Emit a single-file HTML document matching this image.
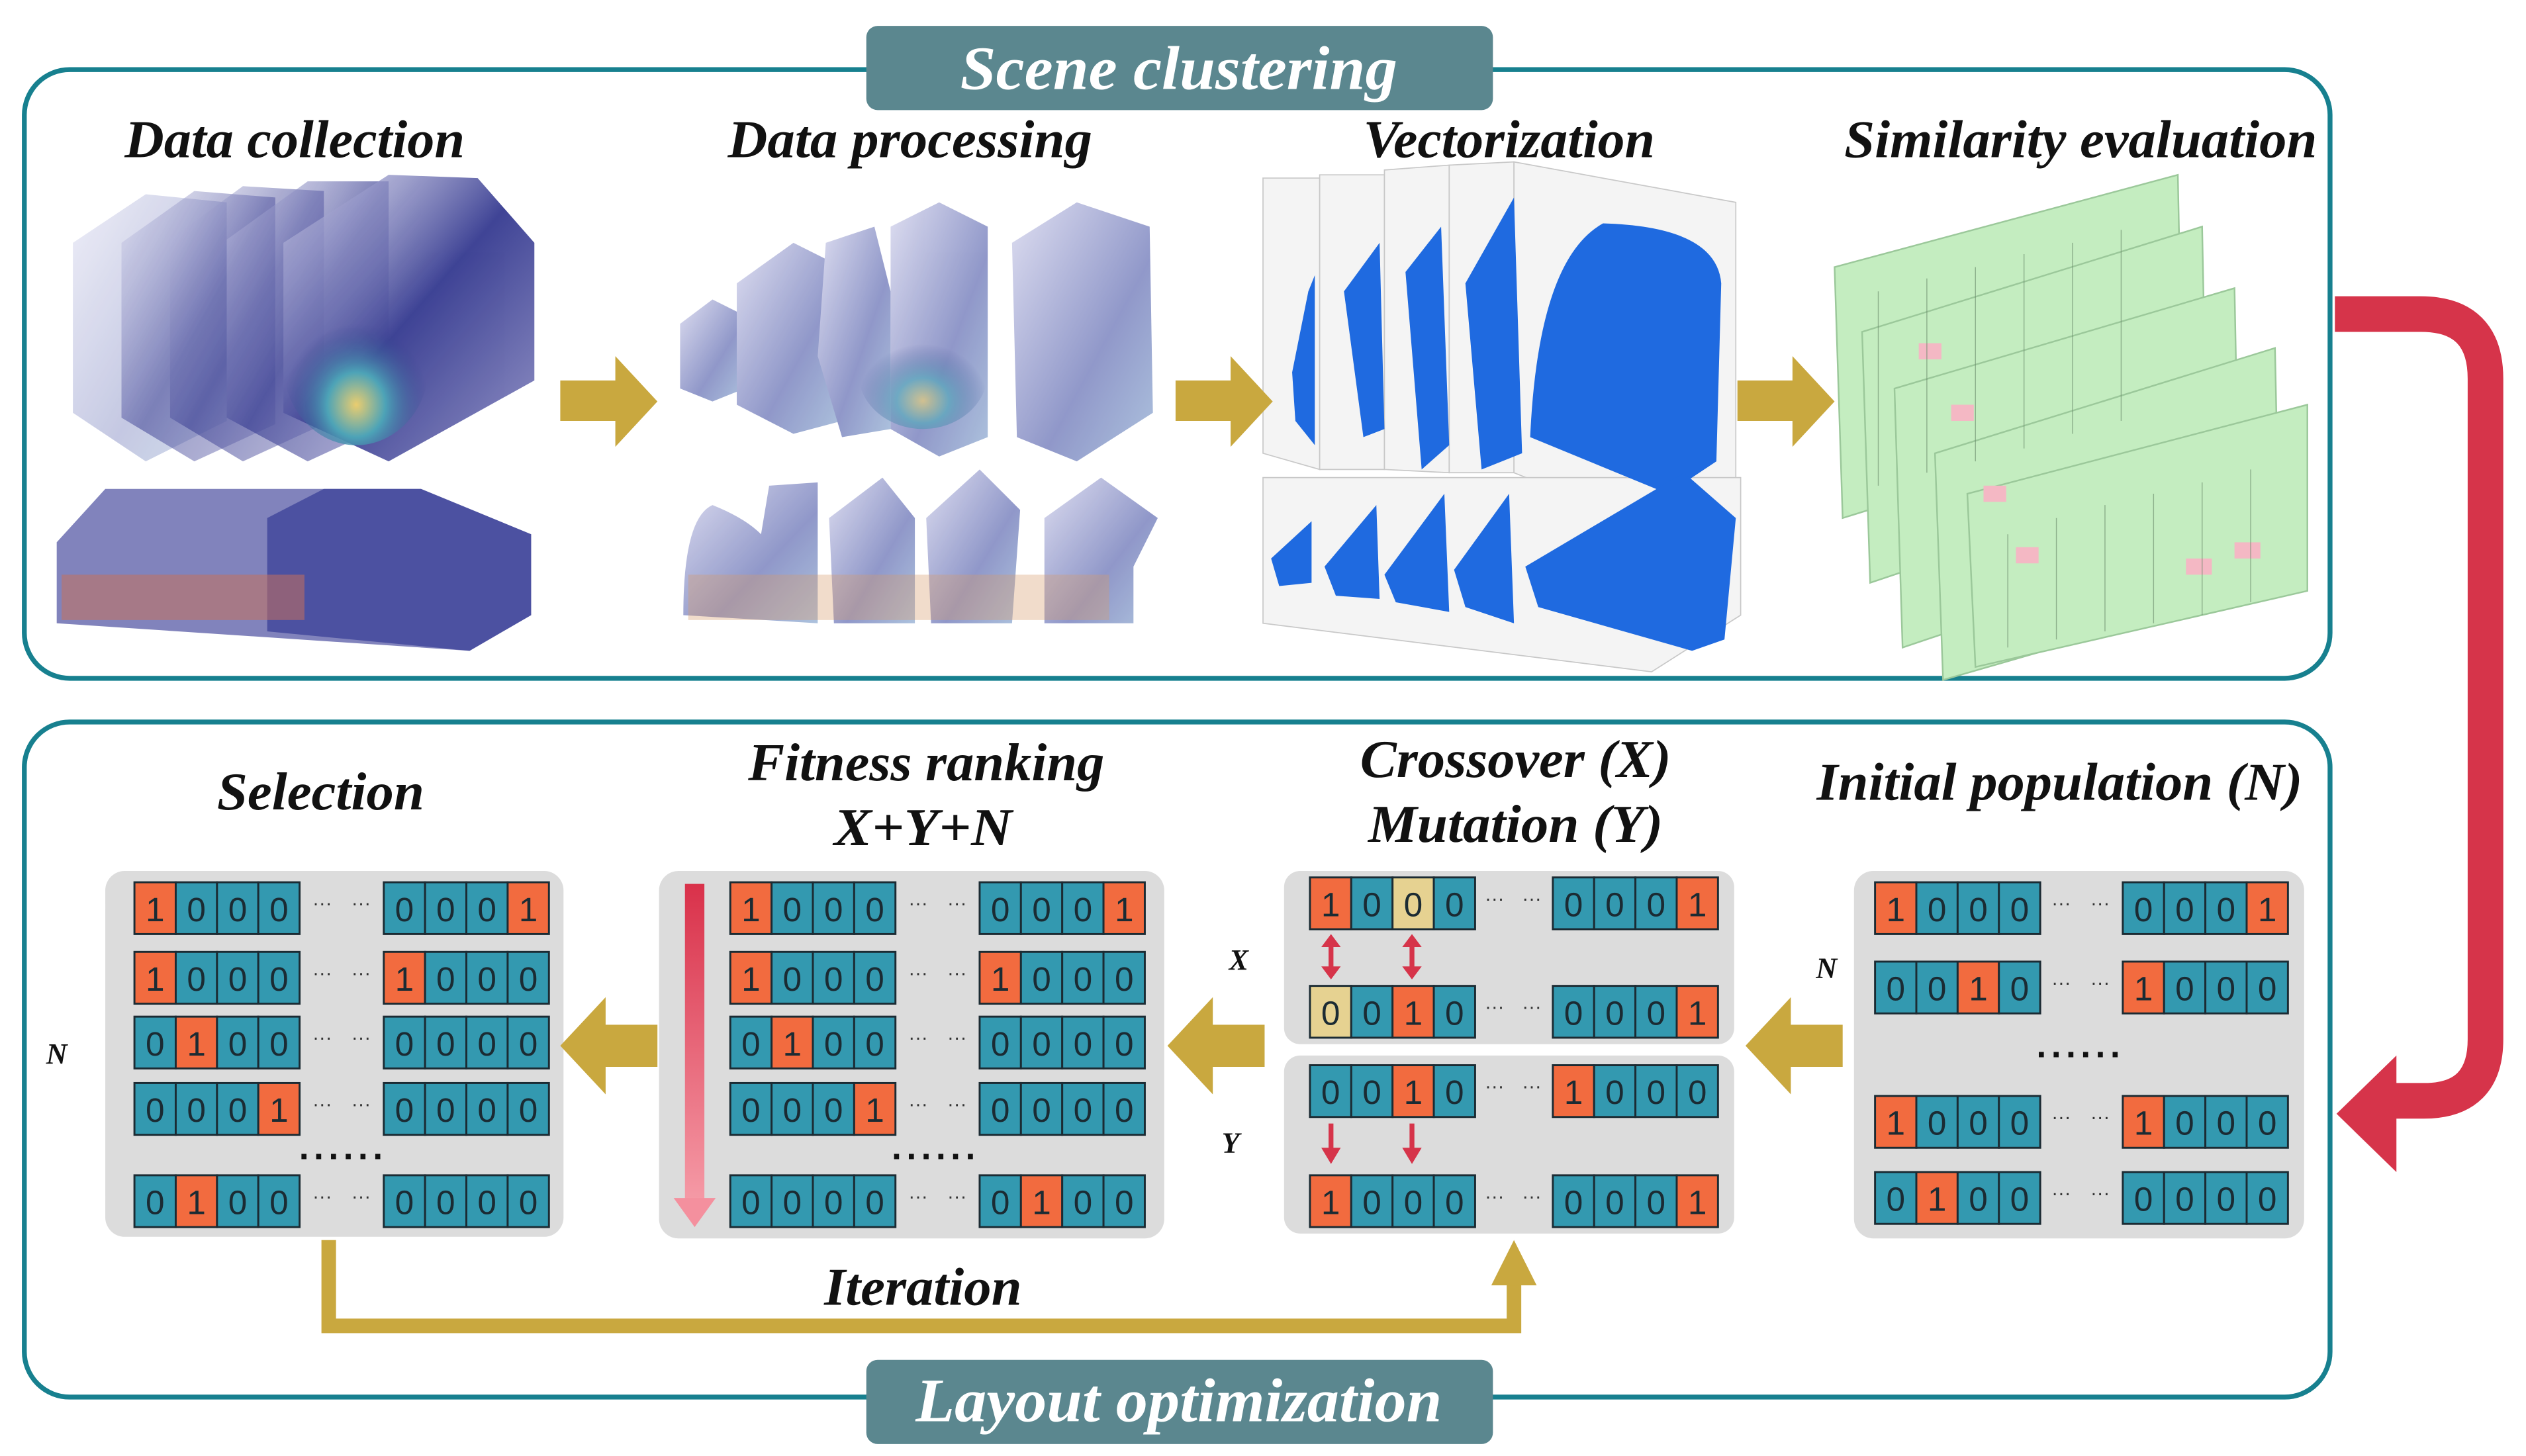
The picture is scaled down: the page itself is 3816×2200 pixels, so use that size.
<!DOCTYPE html>
<html><head><meta charset="utf-8"><style>
html,body{margin:0;padding:0;background:#fff}
svg{display:block}
.t{fill:#3399b0;stroke:#1b2b33;stroke-width:1.2}
.o{fill:#f26b3f;stroke:#1b2b33;stroke-width:1.2}
.y{fill:#e6d291;stroke:#1b2b33;stroke-width:1.2}
.d{font-family:"Liberation Sans",sans-serif;font-size:21px;fill:#1b2b33;text-anchor:middle}
.dt{font-family:"Liberation Sans",sans-serif;font-size:12px;fill:#333;text-anchor:middle}
.h{font-family:"Liberation Serif",serif;font-weight:bold;font-style:italic;fill:#111}
.w{font-family:"Liberation Serif",serif;font-weight:bold;font-style:italic;fill:#fff}
.gold{fill:#c9a83f}
</style></head><body>
<svg width="3816" height="2200" viewBox="0 0 1560 899.4" xmlns="http://www.w3.org/2000/svg">
<defs>
<linearGradient id="nav" x1="0" y1="0" x2="1" y2="1"><stop offset="0" stop-color="#c8c8e6" stop-opacity=".6"/><stop offset=".5" stop-color="#2a2f8a"/><stop offset="1" stop-color="#8888c0"/></linearGradient>
<radialGradient id="hot" cx=".5" cy=".75" r=".5"><stop offset="0" stop-color="#e8c860"/><stop offset=".4" stop-color="#3a9ab0"/><stop offset="1" stop-color="#1e2a80" stop-opacity="0"/></radialGradient>
<linearGradient id="lav" x1="0" y1="0" x2="1" y2="1"><stop offset="0" stop-color="#d8d8ee"/><stop offset=".6" stop-color="#7d86c0"/><stop offset="1" stop-color="#9fb8d8"/></linearGradient>
<linearGradient id="redg" x1="0" y1="0" x2="0" y2="1"><stop offset="0" stop-color="#d9314a"/><stop offset="1" stop-color="#f59aa6"/></linearGradient>
</defs>

<!-- frames -->
<rect x="15" y="43" width="1424" height="376" rx="28" fill="none" stroke="#17808f" stroke-width="3"/>
<rect x="15" y="446" width="1424" height="417" rx="28" fill="none" stroke="#17808f" stroke-width="3"/>
<rect x="535" y="16" width="387" height="52" rx="7" fill="#5b878f"/>
<text class="w" x="728" y="55" font-size="38" text-anchor="middle" textLength="270" lengthAdjust="spacingAndGlyphs">Scene clustering</text>
<rect x="535" y="840" width="387" height="52" rx="7" fill="#5b878f"/>
<text class="w" x="728" y="878" font-size="38" text-anchor="middle" textLength="325" lengthAdjust="spacingAndGlyphs">Layout optimization</text>

<!-- top titles -->
<text class="h" x="182" y="97" font-size="33" text-anchor="middle" textLength="210" lengthAdjust="spacingAndGlyphs">Data collection</text>
<text class="h" x="562" y="97" font-size="33" text-anchor="middle" textLength="225" lengthAdjust="spacingAndGlyphs">Data processing</text>
<text class="h" x="932" y="97" font-size="33" text-anchor="middle" textLength="180" lengthAdjust="spacingAndGlyphs">Vectorization</text>
<text class="h" x="1285" y="97" font-size="33" text-anchor="middle" textLength="292" lengthAdjust="spacingAndGlyphs">Similarity evaluation</text>

<!-- data collection images -->
<g opacity=".9">
<polygon points="45,150 90,120 140,125 140,260 90,285 45,255" fill="url(#lav)" opacity=".5"/>
<polygon points="75,150 120,118 170,122 170,262 120,285 75,258" fill="url(#nav)" opacity=".55"/>
<polygon points="105,148 150,115 200,118 200,262 150,285 105,258" fill="url(#nav)" opacity=".6"/>
<polygon points="140,148 190,112 240,112 240,262 190,285 140,258" fill="url(#nav)" opacity=".7"/>
<polygon points="175,150 240,108 295,110 330,150 330,235 240,285 175,255" fill="url(#nav)"/>
<ellipse cx="220" cy="225" rx="45" ry="50" fill="url(#hot)"/>
<polygon points="35,335 65,302 260,302 328,330 328,380 290,402 35,385" fill="#5a5ea8" opacity=".85"/>
<polygon points="165,320 200,302 260,302 328,330 328,380 290,402 165,390" fill="#2c3190" opacity=".8"/>
<rect x="38" y="355" width="150" height="28" fill="#c0604a" opacity=".55"/>
</g>
<!-- data processing -->
<g opacity=".85">
<polygon points="420,200 440,185 460,195 460,240 440,248 420,240" fill="url(#lav)"/>
<polygon points="455,175 490,150 520,165 520,260 490,268 455,250" fill="url(#lav)"/>
<polygon points="510,150 540,140 550,180 550,265 520,270 505,220" fill="url(#lav)"/>
<polygon points="550,140 580,125 610,140 610,270 580,282 550,265" fill="url(#lav)"/>
<polygon points="625,150 665,125 710,140 712,255 665,285 628,270" fill="url(#lav)"/>
<ellipse cx="570" cy="230" rx="40" ry="35" fill="url(#hot)" opacity=".7"/>
<path d="M422,380 Q422,320 440,312 Q460,320 470,330 L475,300 L505,298 L505,385 Z" fill="url(#lav)"/>
<polygon points="512,320 545,295 565,320 565,385 515,385" fill="url(#lav)"/>
<polygon points="572,320 605,290 630,315 625,385 575,385" fill="url(#lav)"/>
<polygon points="645,320 680,295 715,320 700,350 700,385 645,385" fill="url(#lav)"/>
<rect x="425" y="355" width="260" height="28" fill="#d08a50" opacity=".35"/>
</g>
<!-- vectorization -->
<g stroke="#c8c8c8" stroke-width=".7" fill="#f4f4f4">
<polygon points="780,110 815,110 815,290 780,280"/>
<polygon points="815,108 855,108 855,290 815,290"/>
<polygon points="855,105 895,102 895,292 855,290"/>
<polygon points="895,102 935,100 935,292 895,292"/>
<polygon points="935,100 1072,125 1072,300 1000,318 935,292"/>
<polygon points="780,295 1075,295 1075,380 1020,415 780,385"/>
</g>
<g fill="#1f6ae0">
<polygon points="798,230 808,180 812,170 812,275 800,260"/>
<polygon points="830,180 852,150 855,265 842,270"/>
<polygon points="868,168 890,140 895,275 878,290"/>
<polygon points="905,175 935,122 940,280 915,290"/>
<path d="M945,270 Q950,160 990,138 Q1060,140 1063,175 L1060,285 L1030,305 Z"/>
<polygon points="785,345 810,322 810,360 790,362"/>
<polygon points="818,350 850,312 852,370 825,368"/>
<polygon points="855,355 892,305 895,378 862,372"/>
<polygon points="898,352 932,305 935,385 905,375"/>
<polygon points="942,350 1040,292 1072,320 1065,395 1045,402 950,375"/>
</g>
<!-- similarity sheets -->
<g fill="#c4edc0" stroke="#9bc89a" stroke-width="1">
<polygon points="1133,165 1345,108 1348,255 1138,320"/>
<polygon points="1150,205 1360,140 1363,290 1155,360"/>
<polygon points="1170,240 1380,178 1383,330 1175,400"/>
<polygon points="1195,280 1405,215 1408,360 1200,420"/>
<polygon points="1215,305 1425,250 1425,365 1220,412"/>
</g>
<g fill="#f4b8c4">
<rect x="1185" y="212" width="14" height="10"/><rect x="1205" y="250" width="14" height="10"/>
<rect x="1225" y="300" width="14" height="10"/><rect x="1245" y="338" width="14" height="10"/>
<rect x="1350" y="345" width="16" height="10"/><rect x="1380" y="335" width="16" height="10"/>
</g>
<g stroke="#6a8a6a" stroke-width=".6" opacity=".6">
<path d="M1160,180 V300 M1190,172 V292 M1220,165 V285 M1250,157 V277 M1280,150 V268 M1310,142 V260 M1240,330 V400 M1270,320 V395 M1300,312 V390 M1330,305 V385 M1360,298 V380 M1390,290 V372"/>
</g>

<!-- top gold arrows -->
<polygon class="gold" points="346,235 380,235 380,220 406,248 380,276 380,260 346,260"/>
<polygon class="gold" points="726,235 760,235 760,220 786,248 760,276 760,260 726,260"/>
<polygon class="gold" points="1073,235 1107,235 1107,220 1133,248 1107,276 1107,260 1073,260"/>

<!-- red arrow -->
<path d="M1442,194 H1495 Q1535,194 1535,234 V642 Q1535,680 1497,680 H1474" fill="none" stroke="#d6344a" stroke-width="22"/>
<polygon points="1443,688 1480,652 1480,724" fill="#d6344a"/>

<!-- bottom titles -->
<text class="h" x="198" y="500" font-size="33" text-anchor="middle" textLength="128" lengthAdjust="spacingAndGlyphs">Selection</text>
<text class="h" x="572" y="482" font-size="33" text-anchor="middle" textLength="220" lengthAdjust="spacingAndGlyphs">Fitness ranking</text>
<text class="h" x="570" y="522" font-size="33" text-anchor="middle" textLength="110" lengthAdjust="spacingAndGlyphs">X+Y+N</text>
<text class="h" x="936" y="480" font-size="33" text-anchor="middle" textLength="192" lengthAdjust="spacingAndGlyphs">Crossover (X)</text>
<text class="h" x="936" y="520" font-size="33" text-anchor="middle" textLength="182" lengthAdjust="spacingAndGlyphs">Mutation (Y)</text>
<text class="h" x="1272" y="494" font-size="33" text-anchor="middle" textLength="300" lengthAdjust="spacingAndGlyphs">Initial population (N)</text>
<text class="h" x="570" y="806" font-size="33" text-anchor="middle" textLength="122" lengthAdjust="spacingAndGlyphs">Iteration</text>

<!-- panels -->
<rect x="65" y="538" width="283" height="226" rx="12" fill="#dcdcdc"/>
<rect x="407" y="538" width="312" height="227" rx="12" fill="#dcdcdc"/>
<rect x="793" y="538" width="278" height="107" rx="10" fill="#dcdcdc"/>
<rect x="793" y="652" width="278" height="110" rx="10" fill="#dcdcdc"/>
<rect x="1145" y="538" width="278" height="227" rx="12" fill="#dcdcdc"/>

<!-- brace + labels -->
<path d="M65,560 Q55,560 55,600 Q55,645 48,650 Q55,655 55,700 Q55,740 65,740" fill="none" stroke="#fff" stroke-width="3"/>
<text class="h" x="35" y="657" font-size="18" text-anchor="middle">N</text>
<text class="h" x="765" y="599" font-size="18" text-anchor="middle">X</text>
<text class="h" x="760" y="712" font-size="18" text-anchor="middle">Y</text>
<text class="h" x="1128" y="604" font-size="18" text-anchor="middle">N</text>

<!-- fitness arrow -->
<rect x="423" y="546" width="12" height="196" fill="url(#redg)"/>
<polygon points="416,740 442,740 429,758" fill="#f4909e"/>

<!-- left gold arrows -->
<polygon class="gold" points="346,646 374,616 374,633 406,633 406,659 374,659 374,676"/>
<polygon class="gold" points="721,646 749,616 749,633 781,633 781,659 749,659 749,676"/>
<polygon class="gold" points="1078,646 1106,616 1106,633 1138,633 1138,659 1106,659 1106,676"/>

<!-- iteration -->
<path d="M203,766 V819 H935 V792" fill="none" stroke="#c9a83f" stroke-width="9"/>
<polygon class="gold" points="921,794 949,794 935,766"/>

<!-- crossover/mutation red arrows -->
<g stroke="#d6344a" stroke-width="3" fill="#d6344a">
<line x1="822" y1="584" x2="822" y2="598"/><polygon points="816,585 828,585 822,577" stroke="none"/><polygon points="816,597 828,597 822,605" stroke="none"/>
<line x1="872" y1="584" x2="872" y2="598"/><polygon points="866,585 878,585 872,577" stroke="none"/><polygon points="866,597 878,597 872,605" stroke="none"/>
<line x1="822" y1="694" x2="822" y2="710"/><polygon points="816,709 828,709 822,719" stroke="none"/>
<line x1="872" y1="694" x2="872" y2="710"/><polygon points="866,709 878,709 872,719" stroke="none"/>
</g>

<!-- dotted separators -->
<g font-family="Liberation Sans" font-size="22" font-weight="bold" fill="#111" text-anchor="middle">
<text x="212" y="716" letter-spacing="3">......</text>
<text x="578" y="716" letter-spacing="3">......</text>
<text x="1285" y="653" letter-spacing="3">......</text>
</g>

<!-- ROWS -->
<!-- Selection -->
<g transform="translate(83,545)"><rect class="o" x="0" y="0" width="25.5" height="32"/><rect class="t" x="25.5" y="0" width="25.5" height="32"/><rect class="t" x="51" y="0" width="25.5" height="32"/><rect class="t" x="76.5" y="0" width="25.5" height="32"/><rect class="t" x="154" y="0" width="25.5" height="32"/><rect class="t" x="179.5" y="0" width="25.5" height="32"/><rect class="t" x="205" y="0" width="25.5" height="32"/><rect class="o" x="230.5" y="0" width="25.5" height="32"/><text class="d" x="12.75" y="24">1</text><text class="d" x="38.25" y="24">0</text><text class="d" x="63.75" y="24">0</text><text class="d" x="89.25" y="24">0</text><text class="d" x="166.75" y="24">0</text><text class="d" x="192.25" y="24">0</text><text class="d" x="217.75" y="24">0</text><text class="d" x="243.25" y="24">1</text><text class="dt" x="116" y="17">···</text><text class="dt" x="140" y="17">···</text></g>
<g transform="translate(83,588)"><rect class="o" x="0" y="0" width="25.5" height="32"/><rect class="t" x="25.5" y="0" width="25.5" height="32"/><rect class="t" x="51" y="0" width="25.5" height="32"/><rect class="t" x="76.5" y="0" width="25.5" height="32"/><rect class="o" x="154" y="0" width="25.5" height="32"/><rect class="t" x="179.5" y="0" width="25.5" height="32"/><rect class="t" x="205" y="0" width="25.5" height="32"/><rect class="t" x="230.5" y="0" width="25.5" height="32"/><text class="d" x="12.75" y="24">1</text><text class="d" x="38.25" y="24">0</text><text class="d" x="63.75" y="24">0</text><text class="d" x="89.25" y="24">0</text><text class="d" x="166.75" y="24">1</text><text class="d" x="192.25" y="24">0</text><text class="d" x="217.75" y="24">0</text><text class="d" x="243.25" y="24">0</text><text class="dt" x="116" y="17">···</text><text class="dt" x="140" y="17">···</text></g>
<g transform="translate(83,628)"><rect class="t" x="0" y="0" width="25.5" height="32"/><rect class="o" x="25.5" y="0" width="25.5" height="32"/><rect class="t" x="51" y="0" width="25.5" height="32"/><rect class="t" x="76.5" y="0" width="25.5" height="32"/><rect class="t" x="154" y="0" width="25.5" height="32"/><rect class="t" x="179.5" y="0" width="25.5" height="32"/><rect class="t" x="205" y="0" width="25.5" height="32"/><rect class="t" x="230.5" y="0" width="25.5" height="32"/><text class="d" x="12.75" y="24">0</text><text class="d" x="38.25" y="24">1</text><text class="d" x="63.75" y="24">0</text><text class="d" x="89.25" y="24">0</text><text class="d" x="166.75" y="24">0</text><text class="d" x="192.25" y="24">0</text><text class="d" x="217.75" y="24">0</text><text class="d" x="243.25" y="24">0</text><text class="dt" x="116" y="17">···</text><text class="dt" x="140" y="17">···</text></g>
<g transform="translate(83,669)"><rect class="t" x="0" y="0" width="25.5" height="32"/><rect class="t" x="25.5" y="0" width="25.5" height="32"/><rect class="t" x="51" y="0" width="25.5" height="32"/><rect class="o" x="76.5" y="0" width="25.5" height="32"/><rect class="t" x="154" y="0" width="25.5" height="32"/><rect class="t" x="179.5" y="0" width="25.5" height="32"/><rect class="t" x="205" y="0" width="25.5" height="32"/><rect class="t" x="230.5" y="0" width="25.5" height="32"/><text class="d" x="12.75" y="24">0</text><text class="d" x="38.25" y="24">0</text><text class="d" x="63.75" y="24">0</text><text class="d" x="89.25" y="24">1</text><text class="d" x="166.75" y="24">0</text><text class="d" x="192.25" y="24">0</text><text class="d" x="217.75" y="24">0</text><text class="d" x="243.25" y="24">0</text><text class="dt" x="116" y="17">···</text><text class="dt" x="140" y="17">···</text></g>
<g transform="translate(83,726)"><rect class="t" x="0" y="0" width="25.5" height="32"/><rect class="o" x="25.5" y="0" width="25.5" height="32"/><rect class="t" x="51" y="0" width="25.5" height="32"/><rect class="t" x="76.5" y="0" width="25.5" height="32"/><rect class="t" x="154" y="0" width="25.5" height="32"/><rect class="t" x="179.5" y="0" width="25.5" height="32"/><rect class="t" x="205" y="0" width="25.5" height="32"/><rect class="t" x="230.5" y="0" width="25.5" height="32"/><text class="d" x="12.75" y="24">0</text><text class="d" x="38.25" y="24">1</text><text class="d" x="63.75" y="24">0</text><text class="d" x="89.25" y="24">0</text><text class="d" x="166.75" y="24">0</text><text class="d" x="192.25" y="24">0</text><text class="d" x="217.75" y="24">0</text><text class="d" x="243.25" y="24">0</text><text class="dt" x="116" y="17">···</text><text class="dt" x="140" y="17">···</text></g>

<!-- Fitness -->
<g transform="translate(451,545)"><rect class="o" x="0" y="0" width="25.5" height="32"/><rect class="t" x="25.5" y="0" width="25.5" height="32"/><rect class="t" x="51" y="0" width="25.5" height="32"/><rect class="t" x="76.5" y="0" width="25.5" height="32"/><rect class="t" x="154" y="0" width="25.5" height="32"/><rect class="t" x="179.5" y="0" width="25.5" height="32"/><rect class="t" x="205" y="0" width="25.5" height="32"/><rect class="o" x="230.5" y="0" width="25.5" height="32"/><text class="d" x="12.75" y="24">1</text><text class="d" x="38.25" y="24">0</text><text class="d" x="63.75" y="24">0</text><text class="d" x="89.25" y="24">0</text><text class="d" x="166.75" y="24">0</text><text class="d" x="192.25" y="24">0</text><text class="d" x="217.75" y="24">0</text><text class="d" x="243.25" y="24">1</text><text class="dt" x="116" y="17">···</text><text class="dt" x="140" y="17">···</text></g>
<g transform="translate(451,588)"><rect class="o" x="0" y="0" width="25.5" height="32"/><rect class="t" x="25.5" y="0" width="25.5" height="32"/><rect class="t" x="51" y="0" width="25.5" height="32"/><rect class="t" x="76.5" y="0" width="25.5" height="32"/><rect class="o" x="154" y="0" width="25.5" height="32"/><rect class="t" x="179.5" y="0" width="25.5" height="32"/><rect class="t" x="205" y="0" width="25.5" height="32"/><rect class="t" x="230.5" y="0" width="25.5" height="32"/><text class="d" x="12.75" y="24">1</text><text class="d" x="38.25" y="24">0</text><text class="d" x="63.75" y="24">0</text><text class="d" x="89.25" y="24">0</text><text class="d" x="166.75" y="24">1</text><text class="d" x="192.25" y="24">0</text><text class="d" x="217.75" y="24">0</text><text class="d" x="243.25" y="24">0</text><text class="dt" x="116" y="17">···</text><text class="dt" x="140" y="17">···</text></g>
<g transform="translate(451,628)"><rect class="t" x="0" y="0" width="25.5" height="32"/><rect class="o" x="25.5" y="0" width="25.5" height="32"/><rect class="t" x="51" y="0" width="25.5" height="32"/><rect class="t" x="76.5" y="0" width="25.5" height="32"/><rect class="t" x="154" y="0" width="25.5" height="32"/><rect class="t" x="179.5" y="0" width="25.5" height="32"/><rect class="t" x="205" y="0" width="25.5" height="32"/><rect class="t" x="230.5" y="0" width="25.5" height="32"/><text class="d" x="12.75" y="24">0</text><text class="d" x="38.25" y="24">1</text><text class="d" x="63.75" y="24">0</text><text class="d" x="89.25" y="24">0</text><text class="d" x="166.75" y="24">0</text><text class="d" x="192.25" y="24">0</text><text class="d" x="217.75" y="24">0</text><text class="d" x="243.25" y="24">0</text><text class="dt" x="116" y="17">···</text><text class="dt" x="140" y="17">···</text></g>
<g transform="translate(451,669)"><rect class="t" x="0" y="0" width="25.5" height="32"/><rect class="t" x="25.5" y="0" width="25.5" height="32"/><rect class="t" x="51" y="0" width="25.5" height="32"/><rect class="o" x="76.5" y="0" width="25.5" height="32"/><rect class="t" x="154" y="0" width="25.5" height="32"/><rect class="t" x="179.5" y="0" width="25.5" height="32"/><rect class="t" x="205" y="0" width="25.5" height="32"/><rect class="t" x="230.5" y="0" width="25.5" height="32"/><text class="d" x="12.75" y="24">0</text><text class="d" x="38.25" y="24">0</text><text class="d" x="63.75" y="24">0</text><text class="d" x="89.25" y="24">1</text><text class="d" x="166.75" y="24">0</text><text class="d" x="192.25" y="24">0</text><text class="d" x="217.75" y="24">0</text><text class="d" x="243.25" y="24">0</text><text class="dt" x="116" y="17">···</text><text class="dt" x="140" y="17">···</text></g>
<g transform="translate(451,726)"><rect class="t" x="0" y="0" width="25.5" height="32"/><rect class="t" x="25.5" y="0" width="25.5" height="32"/><rect class="t" x="51" y="0" width="25.5" height="32"/><rect class="t" x="76.5" y="0" width="25.5" height="32"/><rect class="t" x="154" y="0" width="25.5" height="32"/><rect class="o" x="179.5" y="0" width="25.5" height="32"/><rect class="t" x="205" y="0" width="25.5" height="32"/><rect class="t" x="230.5" y="0" width="25.5" height="32"/><text class="d" x="12.75" y="24">0</text><text class="d" x="38.25" y="24">0</text><text class="d" x="63.75" y="24">0</text><text class="d" x="89.25" y="24">0</text><text class="d" x="166.75" y="24">0</text><text class="d" x="192.25" y="24">1</text><text class="d" x="217.75" y="24">0</text><text class="d" x="243.25" y="24">0</text><text class="dt" x="116" y="17">···</text><text class="dt" x="140" y="17">···</text></g>

<!-- Crossover / Mutation -->
<g transform="translate(809,542)"><rect class="o" x="0" y="0" width="25.5" height="32"/><rect class="t" x="25.5" y="0" width="25.5" height="32"/><rect class="y" x="51" y="0" width="25.5" height="32"/><rect class="t" x="76.5" y="0" width="25.5" height="32"/><rect class="t" x="150" y="0" width="25.5" height="32"/><rect class="t" x="175.5" y="0" width="25.5" height="32"/><rect class="t" x="201" y="0" width="25.5" height="32"/><rect class="o" x="226.5" y="0" width="25.5" height="32"/><text class="d" x="12.75" y="24">1</text><text class="d" x="38.25" y="24">0</text><text class="d" x="63.75" y="24">0</text><text class="d" x="89.25" y="24">0</text><text class="d" x="162.75" y="24">0</text><text class="d" x="188.25" y="24">0</text><text class="d" x="213.75" y="24">0</text><text class="d" x="239.25" y="24">1</text><text class="dt" x="114" y="17">···</text><text class="dt" x="137" y="17">···</text></g>
<g transform="translate(809,609)"><rect class="y" x="0" y="0" width="25.5" height="32"/><rect class="t" x="25.5" y="0" width="25.5" height="32"/><rect class="o" x="51" y="0" width="25.5" height="32"/><rect class="t" x="76.5" y="0" width="25.5" height="32"/><rect class="t" x="150" y="0" width="25.5" height="32"/><rect class="t" x="175.5" y="0" width="25.5" height="32"/><rect class="t" x="201" y="0" width="25.5" height="32"/><rect class="o" x="226.5" y="0" width="25.5" height="32"/><text class="d" x="12.75" y="24">0</text><text class="d" x="38.25" y="24">0</text><text class="d" x="63.75" y="24">1</text><text class="d" x="89.25" y="24">0</text><text class="d" x="162.75" y="24">0</text><text class="d" x="188.25" y="24">0</text><text class="d" x="213.75" y="24">0</text><text class="d" x="239.25" y="24">1</text><text class="dt" x="114" y="17">···</text><text class="dt" x="137" y="17">···</text></g>
<g transform="translate(809,658)"><rect class="t" x="0" y="0" width="25.5" height="32"/><rect class="t" x="25.5" y="0" width="25.5" height="32"/><rect class="o" x="51" y="0" width="25.5" height="32"/><rect class="t" x="76.5" y="0" width="25.5" height="32"/><rect class="o" x="150" y="0" width="25.5" height="32"/><rect class="t" x="175.5" y="0" width="25.5" height="32"/><rect class="t" x="201" y="0" width="25.5" height="32"/><rect class="t" x="226.5" y="0" width="25.5" height="32"/><text class="d" x="12.75" y="24">0</text><text class="d" x="38.25" y="24">0</text><text class="d" x="63.75" y="24">1</text><text class="d" x="89.25" y="24">0</text><text class="d" x="162.75" y="24">1</text><text class="d" x="188.25" y="24">0</text><text class="d" x="213.75" y="24">0</text><text class="d" x="239.25" y="24">0</text><text class="dt" x="114" y="17">···</text><text class="dt" x="137" y="17">···</text></g>
<g transform="translate(809,726)"><rect class="o" x="0" y="0" width="25.5" height="32"/><rect class="t" x="25.5" y="0" width="25.5" height="32"/><rect class="t" x="51" y="0" width="25.5" height="32"/><rect class="t" x="76.5" y="0" width="25.5" height="32"/><rect class="t" x="150" y="0" width="25.5" height="32"/><rect class="t" x="175.5" y="0" width="25.5" height="32"/><rect class="t" x="201" y="0" width="25.5" height="32"/><rect class="o" x="226.5" y="0" width="25.5" height="32"/><text class="d" x="12.75" y="24">1</text><text class="d" x="38.25" y="24">0</text><text class="d" x="63.75" y="24">0</text><text class="d" x="89.25" y="24">0</text><text class="d" x="162.75" y="24">0</text><text class="d" x="188.25" y="24">0</text><text class="d" x="213.75" y="24">0</text><text class="d" x="239.25" y="24">1</text><text class="dt" x="114" y="17">···</text><text class="dt" x="137" y="17">···</text></g>

<!-- Initial population -->
<g transform="translate(1158,545)"><rect class="o" x="0" y="0" width="25.5" height="32"/><rect class="t" x="25.5" y="0" width="25.5" height="32"/><rect class="t" x="51" y="0" width="25.5" height="32"/><rect class="t" x="76.5" y="0" width="25.5" height="32"/><rect class="t" x="153" y="0" width="25.5" height="32"/><rect class="t" x="178.5" y="0" width="25.5" height="32"/><rect class="t" x="204" y="0" width="25.5" height="32"/><rect class="o" x="229.5" y="0" width="25.5" height="32"/><text class="d" x="12.75" y="24">1</text><text class="d" x="38.25" y="24">0</text><text class="d" x="63.75" y="24">0</text><text class="d" x="89.25" y="24">0</text><text class="d" x="165.75" y="24">0</text><text class="d" x="191.25" y="24">0</text><text class="d" x="216.75" y="24">0</text><text class="d" x="242.25" y="24">1</text><text class="dt" x="115" y="17">···</text><text class="dt" x="139" y="17">···</text></g>
<g transform="translate(1158,594)"><rect class="t" x="0" y="0" width="25.5" height="32"/><rect class="t" x="25.5" y="0" width="25.5" height="32"/><rect class="o" x="51" y="0" width="25.5" height="32"/><rect class="t" x="76.5" y="0" width="25.5" height="32"/><rect class="o" x="153" y="0" width="25.5" height="32"/><rect class="t" x="178.5" y="0" width="25.5" height="32"/><rect class="t" x="204" y="0" width="25.5" height="32"/><rect class="t" x="229.5" y="0" width="25.5" height="32"/><text class="d" x="12.75" y="24">0</text><text class="d" x="38.25" y="24">0</text><text class="d" x="63.75" y="24">1</text><text class="d" x="89.25" y="24">0</text><text class="d" x="165.75" y="24">1</text><text class="d" x="191.25" y="24">0</text><text class="d" x="216.75" y="24">0</text><text class="d" x="242.25" y="24">0</text><text class="dt" x="115" y="17">···</text><text class="dt" x="139" y="17">···</text></g>
<g transform="translate(1158,677)"><rect class="o" x="0" y="0" width="25.5" height="32"/><rect class="t" x="25.5" y="0" width="25.5" height="32"/><rect class="t" x="51" y="0" width="25.5" height="32"/><rect class="t" x="76.5" y="0" width="25.5" height="32"/><rect class="o" x="153" y="0" width="25.5" height="32"/><rect class="t" x="178.5" y="0" width="25.5" height="32"/><rect class="t" x="204" y="0" width="25.5" height="32"/><rect class="t" x="229.5" y="0" width="25.5" height="32"/><text class="d" x="12.75" y="24">1</text><text class="d" x="38.25" y="24">0</text><text class="d" x="63.75" y="24">0</text><text class="d" x="89.25" y="24">0</text><text class="d" x="165.75" y="24">1</text><text class="d" x="191.25" y="24">0</text><text class="d" x="216.75" y="24">0</text><text class="d" x="242.25" y="24">0</text><text class="dt" x="115" y="17">···</text><text class="dt" x="139" y="17">···</text></g>
<g transform="translate(1158,724)"><rect class="t" x="0" y="0" width="25.5" height="32"/><rect class="o" x="25.5" y="0" width="25.5" height="32"/><rect class="t" x="51" y="0" width="25.5" height="32"/><rect class="t" x="76.5" y="0" width="25.5" height="32"/><rect class="t" x="153" y="0" width="25.5" height="32"/><rect class="t" x="178.5" y="0" width="25.5" height="32"/><rect class="t" x="204" y="0" width="25.5" height="32"/><rect class="t" x="229.5" y="0" width="25.5" height="32"/><text class="d" x="12.75" y="24">0</text><text class="d" x="38.25" y="24">1</text><text class="d" x="63.75" y="24">0</text><text class="d" x="89.25" y="24">0</text><text class="d" x="165.75" y="24">0</text><text class="d" x="191.25" y="24">0</text><text class="d" x="216.75" y="24">0</text><text class="d" x="242.25" y="24">0</text><text class="dt" x="115" y="17">···</text><text class="dt" x="139" y="17">···</text></g>
</svg>
</body></html>
